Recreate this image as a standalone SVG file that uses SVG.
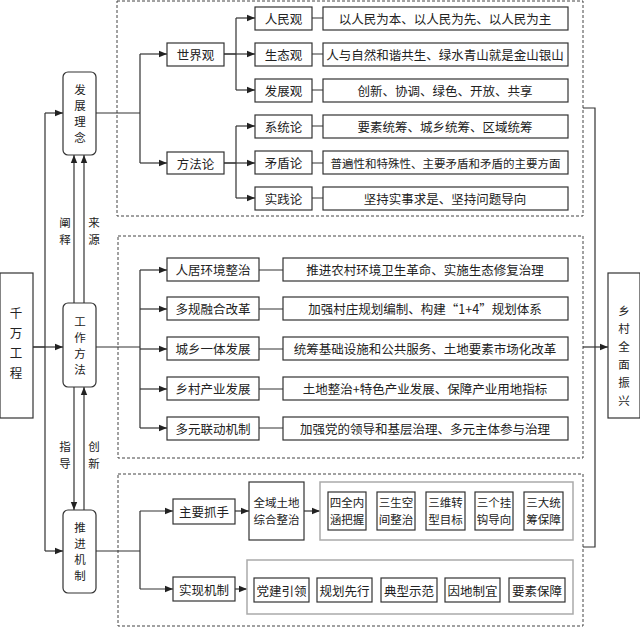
<svg xmlns="http://www.w3.org/2000/svg" width="640" height="628" viewBox="0 0 640 628">
<defs>
<marker id="a" viewBox="0 0 10 10" refX="10" refY="5" markerWidth="7" markerHeight="7" orient="auto"><path d="M0,1 L10,5 L0,9 z" fill="#222"/></marker>
</defs>
<style>
text{font-family:"Noto Sans CJK SC","Liberation Serif",sans-serif;font-size:12.5px;fill:#222;text-anchor:middle;dominant-baseline:central}
.v{font-size:11.5px}
.s{font-size:11.5px}
.b{fill:#fff;stroke:#333;stroke-width:1.2}
.g{fill:#fff;stroke:#aaa;stroke-width:1.5}
.d{fill:none;stroke:#444;stroke-width:1;stroke-dasharray:3,2}
.l{fill:none;stroke:#333;stroke-width:1.2}
.la{fill:none;stroke:#333;stroke-width:1.2;marker-end:url(#a)}
</style>
<rect width="640" height="628" fill="#fff"/>
<rect class="d" x="117" y="1" width="466" height="215"/>
<rect class="d" x="118" y="236" width="465" height="222"/>
<rect class="d" x="118" y="474" width="465" height="152"/>
<g id="connectors">
<path class="l" d="M33,347 H45 M45,113 V551"/>
<path class="la" d="M45,113 H63"/><path class="la" d="M33,347 H63"/><path class="la" d="M45,551 H63"/>
<path class="la" d="M74,303 V155"/><path class="la" d="M84,303 V155"/>
<path class="la" d="M74,387 V510"/><path class="la" d="M84,510 V387"/>
<path class="l" d="M96,113 H140 M140,54 V163"/>
<path class="la" d="M140,54 H167"/><path class="la" d="M140,163 H167"/>
<path class="l" d="M224,54 H236 M236,18 V90 M224,163 H236 M236,126 V198"/>
<path class="la" d="M236,18 H255"/><path class="la" d="M224,54 H255"/><path class="la" d="M236,90 H255"/>
<path class="la" d="M236,126 H255"/><path class="la" d="M224,163 H255"/><path class="la" d="M236,198 H255"/>
<path class="l" d="M312,18 H323 M312,54 H323 M312,90 H323 M312,126 H323 M312,163 H323 M312,198 H323"/>
<path class="l" d="M96,347 H140 M140,270 V428"/>
<path class="la" d="M140,270 H167"/><path class="la" d="M140,309 H167"/><path class="la" d="M140,349 H167"/><path class="la" d="M140,389 H167"/><path class="la" d="M140,428 H167"/>
<path class="l" d="M259,270 H283 M259,309 H283 M259,349 H283 M259,389 H283 M259,428 H283"/>
<path class="l" d="M96,551 H140 M140,511 V589"/>
<path class="la" d="M140,511 H173"/><path class="la" d="M140,589 H173"/>
<path class="la" d="M235,511 H249"/><path class="la" d="M304,511 H320"/><path class="la" d="M235,589 H247"/>
<path class="l" d="M583,108 H595 V547 H583"/>
<path class="la" d="M583,347 H608"/>
</g>
<g id="n-qianwan"><rect class="b" x="0" y="273" width="33" height="145"/><text x="16" y="312">千</text><text x="16" y="332">万</text><text x="16" y="352">工</text><text x="16" y="372">程</text></g>
<g id="n-zhenxing"><rect class="b" x="608" y="273" width="32" height="145"/><text class="v" x="624" y="310">乡</text><text class="v" x="624" y="328">村</text><text class="v" x="624" y="346">全</text><text class="v" x="624" y="364">面</text><text class="v" x="624" y="382">振</text><text class="v" x="624" y="400">兴</text></g>
<g id="n-fazhan"><rect class="b" x="63" y="72" width="33" height="83" rx="5"/><text class="v" x="80" y="89">发</text><text class="v" x="80" y="105">展</text><text class="v" x="80" y="121">理</text><text class="v" x="80" y="137">念</text></g>
<g id="n-gongzuo"><rect class="b" x="63" y="303" width="33" height="84" rx="5"/><text class="v" x="80" y="321">工</text><text class="v" x="80" y="337">作</text><text class="v" x="80" y="353">方</text><text class="v" x="80" y="369">法</text></g>
<g id="n-tuijin"><rect class="b" x="63" y="510" width="33" height="83" rx="5"/><text class="v" x="80" y="527">推</text><text class="v" x="80" y="543">进</text><text class="v" x="80" y="559">机</text><text class="v" x="80" y="575">制</text></g>
<g id="labels"><text class="v" x="65" y="222">阐</text><text class="v" x="65" y="239">释</text><text class="v" x="94" y="222">来</text><text class="v" x="94" y="239">源</text><text class="v" x="65" y="446">指</text><text class="v" x="65" y="463">导</text><text class="v" x="94" y="446">创</text><text class="v" x="94" y="463">新</text></g>
<g id="n-sjg"><rect class="b" x="167" y="43" width="57" height="23"/><text x="195.5" y="54.5">世界观</text></g>
<g id="n-ffl"><rect class="b" x="167" y="152" width="57" height="22"/><text x="195.5" y="163">方法论</text></g>
<g id="n-r1"><rect class="b" x="255" y="7" width="57" height="23"/><text x="283.5" y="18.5">人民观</text><rect class="b" x="323" y="7" width="245" height="23"/><text x="445" y="18.5">以人民为本、以人民为先、以人民为主</text></g>
<g id="n-r2"><rect class="b" x="255" y="43" width="57" height="23"/><text x="283.5" y="54.5">生态观</text><rect class="b" x="323" y="43" width="245" height="23"/><text x="445" y="54.5">人与自然和谐共生、绿水青山就是金山银山</text></g>
<g id="n-r3"><rect class="b" x="255" y="79" width="57" height="23"/><text x="283.5" y="90.5">发展观</text><rect class="b" x="323" y="79" width="245" height="23"/><text x="445" y="90.5">创新、协调、绿色、开放、共享</text></g>
<g id="n-r4"><rect class="b" x="255" y="115" width="57" height="23"/><text x="283.5" y="126.5">系统论</text><rect class="b" x="323" y="115" width="245" height="23"/><text x="445" y="126.5">要素统筹、城乡统筹、区域统筹</text></g>
<g id="n-r5"><rect class="b" x="255" y="151" width="57" height="23"/><text x="283.5" y="162.5">矛盾论</text><rect class="b" x="323" y="151" width="245" height="23"/><text class="s" x="445.5" y="162.5">普遍性和特殊性、主要矛盾和矛盾的主要方面</text></g>
<g id="n-r6"><rect class="b" x="255" y="187" width="57" height="23"/><text x="283.5" y="198.5">实践论</text><rect class="b" x="323" y="187" width="245" height="23"/><text x="445" y="198.5">坚持实事求是、坚持问题导向</text></g>
<g id="n-m1"><rect class="b" x="167" y="258" width="92" height="23"/><text x="213" y="269.5">人居环境整治</text><rect class="b" x="283" y="258" width="285" height="23"/><text x="425" y="269.5">推进农村环境卫生革命、实施生态修复治理</text></g>
<g id="n-m2"><rect class="b" x="167" y="297" width="92" height="23"/><text x="213" y="308.5">多规融合改革</text><rect class="b" x="283" y="297" width="285" height="23"/><text x="425" y="308.5">加强村庄规划编制、构建“1+4”规划体系</text></g>
<g id="n-m3"><rect class="b" x="167" y="337" width="92" height="23"/><text x="213" y="348.5">城乡一体发展</text><rect class="b" x="283" y="337" width="285" height="23"/><text x="425" y="348.5">统筹基础设施和公共服务、土地要素市场化改革</text></g>
<g id="n-m4"><rect class="b" x="167" y="377" width="92" height="23"/><text x="213" y="388.5">乡村产业发展</text><rect class="b" x="283" y="377" width="285" height="23"/><text x="425" y="388.5">土地整治+特色产业发展、保障产业用地指标</text></g>
<g id="n-m5"><rect class="b" x="167" y="417" width="92" height="23"/><text x="213" y="428.5">多元联动机制</text><rect class="b" x="283" y="417" width="285" height="23"/><text x="425" y="428.5">加强党的领导和基层治理、多元主体参与治理</text></g>
<g id="n-zyzs"><rect class="b" x="173" y="499" width="62" height="25"/><text x="204" y="511.5">主要抓手</text></g>
<g id="n-qy"><rect class="b" x="249" y="482" width="55" height="58"/><text class="v" x="276.5" y="502">全域土地</text><text class="v" x="276.5" y="519">综合整治</text></g>
<g id="n-grp1"><rect class="g" x="320" y="482" width="253" height="58"/>
<rect class="b" x="328" y="492" width="38" height="38"/><text class="s" x="347" y="502">四全内</text><text class="s" x="347" y="519">涵把握</text>
<rect class="b" x="377" y="492" width="38" height="38"/><text class="s" x="396" y="502">三生空</text><text class="s" x="396" y="519">间整治</text>
<rect class="b" x="426" y="492" width="39" height="38"/><text class="s" x="445.5" y="502">三维转</text><text class="s" x="445.5" y="519">型目标</text>
<rect class="b" x="475" y="492" width="38" height="38"/><text class="s" x="494" y="502">三个挂</text><text class="s" x="494" y="519">钩导向</text>
<rect class="b" x="524" y="492" width="39" height="38"/><text class="s" x="543.5" y="502">三大统</text><text class="s" x="543.5" y="519">筹保障</text></g>
<g id="n-sxjz"><rect class="b" x="173" y="577" width="62" height="24"/><text x="204" y="589">实现机制</text></g>
<g id="n-grp2"><rect class="g" x="247" y="560" width="326" height="54"/>
<rect class="b" x="254" y="578" width="55" height="24"/><text x="281.5" y="590">党建引领</text>
<rect class="b" x="317" y="578" width="55" height="24"/><text x="344.5" y="590">规划先行</text>
<rect class="b" x="381" y="578" width="56" height="24"/><text x="409" y="590">典型示范</text>
<rect class="b" x="445" y="578" width="55" height="24"/><text x="472.5" y="590">因地制宜</text>
<rect class="b" x="509" y="578" width="56" height="24"/><text x="537" y="590">要素保障</text></g>
</svg>
